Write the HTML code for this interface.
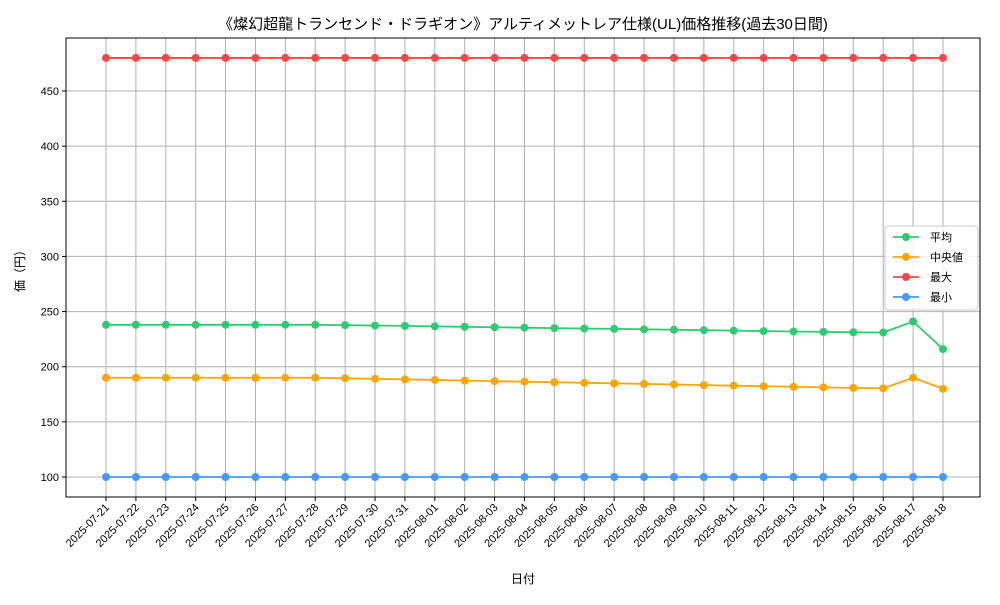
<!DOCTYPE html>
<html><head><meta charset="utf-8"><style>
body{margin:0;background:#fff;font-family:"Liberation Sans","Noto Sans CJK JP",sans-serif;}
svg text{font-family:"Liberation Sans","Noto Sans CJK JP",sans-serif;fill:#000;}
</style></head><body>
<svg id="chart" width="1000" height="600" xmlns="http://www.w3.org/2000/svg">
<text x="523" y="29" font-size="15" text-anchor="middle">《燦幻超龍トランセンド・ドラギオン》アルティメットレア仕様(UL)価格推移(過去30日間)</text>
<text x="523" y="583" font-size="12" text-anchor="middle">日付</text>
<text x="24" y="268" font-size="12" text-anchor="middle" transform="rotate(-90 24 268)">価（円）</text>
<g id="grid"></g><g id="axes"></g><g id="series"></g>
<rect x="66" y="38" width="914" height="459" fill="none" stroke="#000" stroke-width="1"/>
<g id="legend"></g>
</svg>
<script>
const dates=["2025-07-21","2025-07-22","2025-07-23","2025-07-24","2025-07-25","2025-07-26","2025-07-27","2025-07-28","2025-07-29","2025-07-30","2025-07-31","2025-08-01","2025-08-02","2025-08-03","2025-08-04","2025-08-05","2025-08-06","2025-08-07","2025-08-08","2025-08-09","2025-08-10","2025-08-11","2025-08-12","2025-08-13","2025-08-14","2025-08-15","2025-08-16","2025-08-17","2025-08-18"];
const avgVals=[238,238,238,238,238,238,238,238,237.7,237.3,237,236.6,236.2,235.8,235.4,235,234.6,234.3,233.9,233.5,233.1,232.7,232.3,231.9,231.6,231.2,231,241,216];
const medVals=[190,190,190,190,190,190,190,190,189.5,189,188.5,188,187.4,186.9,186.4,185.9,185.4,184.9,184.4,183.9,183.3,182.8,182.3,181.8,181.3,180.8,180.4,190,180];
const maxVals=Array(29).fill(480);
const minVals=Array(29).fill(100);
const yTicks=[100,150,200,250,300,350,400,450];
const seriesNames=["平均","中央値","最大","最小"];
const colors=["#2ecc71","#ffa500","#ff4444","#4499ff"];
const NS="http://www.w3.org/2000/svg";
const X=i=>106+i*(943-106)/28;
const Y=v=>477-(v-100)*386/350;
function mk(t,a,p){const e=document.createElementNS(NS,t);for(const k in a)e.setAttribute(k,a[k]);p.appendChild(e);return e;}
const grid=document.getElementById('grid'),axes=document.getElementById('axes'),ser=document.getElementById('series');
dates.forEach((d,i)=>{
 const l=mk('line',{x1:X(i),x2:X(i),y1:38,y2:497,stroke:'#b0b0b0','stroke-width':1},grid);
 
 
 mk('line',{x1:X(i),x2:X(i),y1:497,y2:501,stroke:'#000'},axes);
 const t=mk('text',{x:X(i)+4,y:508,'font-size':11,'text-anchor':'end',transform:`rotate(-45 ${X(i)+4} 508)`},axes);
 t.textContent=d;
 
 
});
yTicks.forEach(v=>{
 const l=mk('line',{x1:66,x2:980,y1:Y(v),y2:Y(v),stroke:'#b0b0b0','stroke-width':1},grid);
 
 
 mk('line',{x1:62,x2:66,y1:Y(v),y2:Y(v),stroke:'#000'},axes);
 const t=mk('text',{x:59,y:Y(v)+4,'font-size':11,'text-anchor':'end'},axes);
 t.textContent=v;
 
 
});
[avgVals,medVals,maxVals,minVals].forEach((vals,s)=>{
 const g=mk('g',{},ser);
 
 
 mk('polyline',{points:vals.map((v,i)=>X(i)+','+Y(v)).join(' '),fill:'none',stroke:colors[s],'stroke-width':1.8},g);
 vals.forEach((v,i)=>{
  const c=mk('circle',{cx:X(i),cy:Y(v),r:4,fill:colors[s]},g);
  
  
 });
});
const lg=document.getElementById('legend');
mk('rect',{x:885,y:226,width:93,height:84,fill:'#fff','fill-opacity':0.85,stroke:'#ccc',rx:3},lg);
seriesNames.forEach((n,i)=>{
 const y=237+i*20;
 const e=mk('g',{},lg);
 
 
 mk('line',{x1:893,x2:919,y1:y,y2:y,stroke:colors[i],'stroke-width':1.8},e);
 mk('circle',{cx:906,cy:y,r:4,fill:colors[i]},e);
 const t=mk('text',{x:930,y:y+4,'font-size':11},e);t.textContent=n;
});
</script>
</body></html>
